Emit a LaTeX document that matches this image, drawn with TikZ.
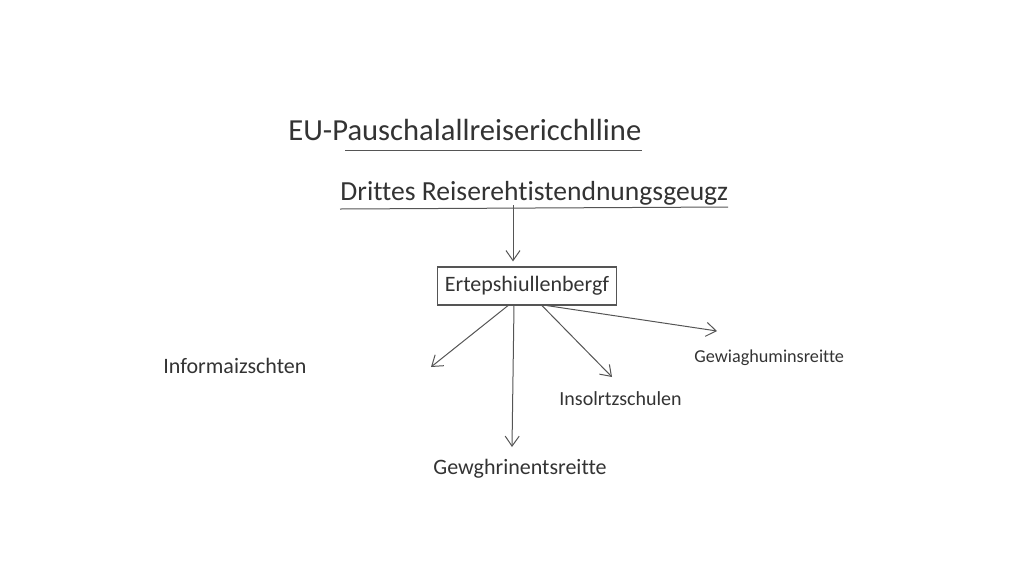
\documentclass[tikz,border=0pt]{standalone}
\usepackage{fontspec}
\setmainfont{Carlito}[Ligatures=NoCommon]
\usepackage{tikz}
\usetikzlibrary{arrows.meta}

\definecolor{pencil}{HTML}{333333}
\definecolor{lead}{HTML}{555555}

\begin{document}
\begin{tikzpicture}[
            x=0.5pt, y=-0.5pt, % one unit is one pixel of the sketch
            every node/.style={inner sep=0pt, text=pencil}, % bare text
            heading/.style={font=\fontsize{13.8}{16}\selectfont}, % the two titles
            leaf/.style={font=\fontsize{11}{13}\selectfont}, % bigger leaves
            smallleaf/.style={font=\fontsize{10}{12}\selectfont}, % smaller leaves
            centerbox/.style={draw=lead, line width=0.6pt, minimum width=89.5pt, minimum height=19pt, font=\fontsize{11}{13}\selectfont},
            link/.style={draw=lead, line width=0.5pt, -{Straight Barb[length=5pt,width=7pt]}}
            ]

                \useasboundingbox (0,0) rectangle (1024,585);

                % titles with their underlines
                \node[heading, font=\fontsize{15.3}{17}\selectfont, anchor=base west] (eu) at (288,140) {EU-Pauschalallreisericchlline};
                \node[heading, anchor=base west] (drittes) at (340,200) {Drittes Reiserehtistendnungsgeugz};
                \draw[lead, line width=0.5pt] (345,150) -- (642,150);
                \draw[lead, line width=0.5pt] (340,209) -- (728,207);

                % box in the middle
                \node[centerbox] (erte) at (527,286) {Ertepshiullenbergf};

                % leaves
                \node[leaf, anchor=base west] (info) at (163,373) {Informaizschten};
                \node[leaf, anchor=base west] (gewg) at (433,474) {Gewghrinentsreitte};
                \node[smallleaf, anchor=base west] (insol) at (559,405) {Insolrtzschulen};
                \node[smallleaf, font=\fontsize{9.1}{11}\selectfont, anchor=base west] (gewi) at (694,362) {Gewiaghuminsreitte};

                % arrow ends
                \coordinate (top) at (513,205);
                \coordinate (leftend) at (431,367);
                \coordinate (downend) at (512,447);
                \coordinate (rightend) at (612,377);
                \coordinate (farend) at (717,331);

                \draw[link] (top) -- ([yshift=2.5pt]top |- erte.north);
                \draw[link] ([xshift=-9.5pt]erte.south) -- (leftend);
                \draw[link] ([xshift=-6.5pt]erte.south) -- (downend);
                \draw[link] ([xshift=7.5pt]erte.south) -- (rightend);
                \draw[link] ([xshift=10pt]erte.south) -- (farend);

            \end{tikzpicture}
\end{document}
